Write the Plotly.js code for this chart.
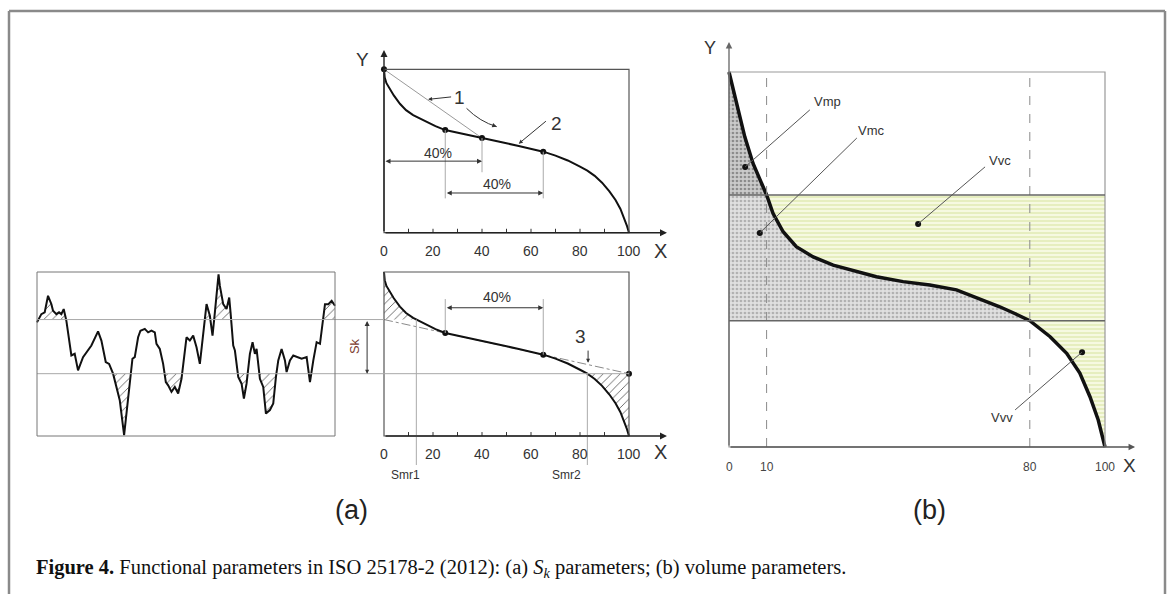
<!DOCTYPE html>
<html>
<head>
<meta charset="utf-8">
<script src="https://cdn.plot.ly/plotly-3.0.1.min.js"></script>
<style>
  html, body { margin: 0; padding: 0; background: #fff; }
  #fig { width: 1171px; height: 594px; }
</style>
</head>
<body>
<div id="fig"></div>
<script>
// ---------- data ----------
// Material-ratio (Abbott-Firestone) curve used in the two Sk panels, X in %
const ratioX = [0, 0.3, 1, 2.4, 4, 6.5, 9, 11.9, 13.2, 17, 21, 25, 30, 35, 40, 45, 50, 55, 60, 65,
                70, 75, 80, 83, 86, 89, 92, 94.5, 96.5, 98, 99.2, 100];
const ratioY = [100, 95, 91.5, 88, 84, 78.9, 75, 72, 71, 68, 65.2, 62.8, 61.1, 59.5, 57.9, 56.3, 54.7, 53.1, 51.4, 49.6,
                47.2, 44.2, 40.4, 38, 34.8, 30.6, 25.3, 20, 14.5, 9, 4, 0];
const chordPts = [0, 40];          // first 40 % window (line 1)
const windowPts = [25, 65];        // 40 % window of least slope
const skUpper = 71, skLower = 38;  // secant heights at 0 % and 100 %
const smr1 = 13.2, smr2 = 83;      // material ratios at the Sk limits
const ratioTicks = [0, 20, 40, 60, 80, 100];
const ratioMinor = [10, 20, 30, 40, 50, 60, 70, 80, 90];

// Surface profile (position %, height on the same scale as the Sk panel)
const profileX = [0, 1.46, 2.58, 3.7, 4.82, 5.38, 6.5, 7.39, 8.17, 8.96, 9.85, 11.53, 12.65, 13.77, 15.45,
  16.57, 18.25, 20.49, 21.61, 23.07, 24.19, 25.53, 27.77, 29.23, 30.24, 31.13, 32.03, 32.81, 33.93, 34.71,
  36.17, 37.29, 38.41, 39.53, 40.09, 41.21, 42.33, 43.23, 44.01, 45.13, 46.25, 47.37, 48.49, 50.17, 51.29,
  52.41, 53.53, 54.65, 55.77, 56.89, 58.01, 58.9, 59.69, 60.25, 60.92, 61.37, 62.49, 63.61, 64.5, 64.95,
  65.85, 66.41, 67.53, 68.65, 69.43, 70.32, 71.44, 72.34, 73.12, 73.68, 74.8, 75.92, 76.82, 78.16, 79.28,
  80.18, 80.96, 82.08, 83.2, 83.76, 84.88, 86, 87.12, 88.8, 90.48, 91.6, 92.72, 93.84, 94.96, 96.08, 96.64,
  97.76, 98.88, 100];
const profileY = [69.3, 74.3, 75.4, 85.5, 80.4, 76.4, 74.3, 75.4, 74.3, 77.4, 70.3, 49.1, 50.1, 40, 48.1,
  51.1, 55.2, 63.8, 58.2, 45.1, 44, 38, 21.8, 0.6, 17.8, 36, 47.1, 48.1, 60.2, 64.2,
  65.3, 63.2, 64.2, 63.2, 56.2, 53.1, 44, 32.9, 30.9, 26.9, 29.9, 25.9, 34.9, 60.2, 58.2,
  61.2, 54.1, 44, 64.2, 80.4, 73.3, 61.2, 75.4, 85.5, 98.6, 91.5, 80.4, 77.4, 84.4, 75.4,
  55.2, 52.1, 36, 31.9, 22.8, 31.9, 50.1, 57.2, 50.1, 53.1, 34.9, 29.9, 13.7, 15.8, 19.8,
  36, 46.1, 53.1, 46.1, 39, 46.1, 49.1, 48.1, 47.1, 48.1, 32.9, 46.1, 57.2, 56.2, 74.3, 80.4,
  80.4, 82.4, 79.4];

// Material-ratio curve for the volume parameters
const volX = [0, 2, 4.2, 6.4, 10, 11.7, 14.4, 17.9, 22.4, 27.7, 33.9, 39.2, 46.3, 53.4, 60.5, 66.7, 72, 76,
              80, 85.4, 89.8, 93.3, 96, 98.2, 100];
const volY = [100, 91.6, 82.7, 75.6, 67.2, 62.3, 57.4, 53.4, 50.7, 48.5, 46.7, 45.4, 44.1, 43.2, 41.9, 39.6, 37.4, 35.6,
              33.7, 29.4, 25, 19.7, 13.4, 7.2, 0];
const mr1 = 10, mr2 = 80;
const volTicks = [0, 10, 80, 100];
const volNames = ['Vmp', 'Vmc', 'Vvc', 'Vvv'];

// ---------- page geometry (pixel position of values 0 and 100, plus visible ranges) ----------
const W = 1171, H = 594;
const GEO = {
  a: { x: [384, 629], y: [232.7, 69.3], xr: [-16, 125], yr: [-14, 118] },
  b: { x: [384, 629], y: [436, 272],    xr: [-16, 125], yr: [-48, 108] },
  c: { x: [37, 335],                    xr: [-3, 103] },
  d: { x: [729, 1105], y: [447, 72],    xr: [-8, 112], yr: [-20, 112] }
};
function xDom(g) { const s = (g.x[1] - g.x[0]) / 100; return [(g.x[0] + g.xr[0] * s) / W, (g.x[0] + g.xr[1] * s) / W]; }
function yDom(g) { const s = (g.y[0] - g.y[1]) / 100; return [1 - (g.y[0] - g.yr[0] * s) / H, 1 - (g.y[0] - g.yr[1] * s) / H]; }
function paperX(g, v) { return (g.x[0] + v * (g.x[1] - g.x[0]) / 100) / W; }

const SANS = 'Liberation Sans, Arial, sans-serif';
const SERIF = 'Liberation Serif, Times New Roman, serif';

function yAt(xs, ys, x) { return ys[xs.indexOf(x)]; }

// polygons of the parts of a line lying beyond a level, closed along that level
function excursions(xs, ys, level, above) {
  const ox = [], oy = [];
  const cond = v => above ? v > level : v < level;
  for (let i = 0; i < xs.length; i++) {
    const c = cond(ys[i]);
    if (i === 0) {
      if (c) { ox.push(xs[0]); oy.push(level); }
    } else if (c !== cond(ys[i - 1])) {
      const t = (level - ys[i - 1]) / (ys[i] - ys[i - 1]);
      ox.push(xs[i - 1] + t * (xs[i] - xs[i - 1])); oy.push(level);
      if (!c) { ox.push(null); oy.push(null); }
    }
    if (c) { ox.push(xs[i]); oy.push(ys[i]); }
  }
  if (cond(ys[ys.length - 1])) { ox.push(xs[xs.length - 1]); oy.push(level); }
  return { x: ox, y: oy };
}

const shapes = [], ann = [];
function seg(x0, y0, x1, y1, xr, yr, color, width, dash) {
  shapes.push({ type: 'line', x0, y0, x1, y1, xref: xr, yref: yr, line: { color, width, dash: dash || 'solid' } });
}
function box(xr, yr, color, width) {
  shapes.push({ type: 'rect', x0: 0, y0: 0, x1: 100, y1: 100, xref: xr, yref: yr, line: { color, width }, fillcolor: 'rgba(0,0,0,0)' });
}
function label(text, x, y, xr, yr, size, extra) {
  ann.push(Object.assign({ text, x, y, xref: xr, yref: yr, showarrow: false,
    font: { family: SANS, size, color: '#333' }, xanchor: 'center', yanchor: 'middle' }, extra || {}));
}
function arrow(x, y, ax, ay, xr, yr, extra) {
  ann.push(Object.assign({ text: '', x, y, ax, ay, xref: xr, yref: yr, axref: xr, ayref: yr, showarrow: true,
    arrowhead: 2, arrowsize: 1, arrowwidth: 1, arrowcolor: '#333', standoff: 0, startstandoff: 0 }, extra || {}));
}
const both = { arrowside: 'end+start', startarrowhead: 2, startarrowsize: 1 };

const traces = [];
const hatch = { shape: '/', fgcolor: '#555', bgcolor: 'rgba(255,255,255,0)', size: 6, solidity: 0.14 };

// ---------- panel (a), top: 40 % windows along the ratio curve ----------
box('x', 'y', '#555', 1.2);
arrow(0, 111.8, 0, 0, 'x', 'y', { arrowwidth: 1.4, arrowcolor: '#222' });
arrow(115.5, 0, 0, 0, 'x', 'y', { arrowwidth: 1.4, arrowcolor: '#222' });
ratioMinor.forEach(t => seg(t, 0, t, 2.4, 'x', 'y', '#333', 1));
ratioTicks.forEach(t => label(String(t), t, -11.5, 'x', 'y', 14));
label('Y', -8.6, 106.3, 'x', 'y', 19);
label('X', 112.7, -11, 'x', 'y', 20);

traces.push({ x: chordPts, y: chordPts.map(v => yAt(ratioX, ratioY, v)), xaxis: 'x', yaxis: 'y',
  mode: 'lines', line: { color: '#9a9a9a', width: 1 } });
traces.push({ x: ratioX, y: ratioY, xaxis: 'x', yaxis: 'y', mode: 'lines', line: { color: '#111', width: 2 } });
const dotsA = [chordPts[0], windowPts[0], chordPts[1], windowPts[1]];
traces.push({ x: dotsA, y: dotsA.map(v => yAt(ratioX, ratioY, v)), xaxis: 'x', yaxis: 'y',
  mode: 'markers', marker: { color: '#111', size: 6 } });

seg(windowPts[0], yAt(ratioX, ratioY, windowPts[0]), windowPts[0], 21, 'x', 'y', '#aaa', 1);
seg(chordPts[1], yAt(ratioX, ratioY, chordPts[1]), chordPts[1], 37, 'x', 'y', '#aaa', 1);
seg(windowPts[1], yAt(ratioX, ratioY, windowPts[1]), windowPts[1], 21, 'x', 'y', '#aaa', 1);
arrow(chordPts[1], 43.8, chordPts[0], 43.8, 'x', 'y', both);
arrow(windowPts[1], 24.3, windowPts[0], 24.3, 'x', 'y', both);
label('40%', 22, 48.8, 'x', 'y', 14);
label('40%', 46, 29.8, 'x', 'y', 14);

label('1', 31, 83, 'x', 'y', 19);
arrow(18, 81.6, 28, 83.2, 'x', 'y', { arrowsize: 0.8 });
shapes.push({ type: 'path', xref: 'x', yref: 'y', path: 'M33.7,76.1 Q39.2,67.9 46,64.9', line: { color: '#333', width: 1 } });
arrow(46, 64.9, 44.6, 65.6, 'x', 'y', { arrowsize: 0.9 });
label('2', 70.5, 67, 'x', 'y', 19);
arrow(55, 54.5, 66.7, 69, 'x', 'y', { arrowsize: 0.8 });

// ---------- panel (a), bottom: Sk construction ----------
box('x2', 'y2', '#555', 1.2);
arrow(115.5, 0, 0, 0, 'x2', 'y2', { arrowwidth: 1.4, arrowcolor: '#222' });
ratioMinor.forEach(t => seg(t, 0, t, 2.4, 'x2', 'y2', '#333', 1));
ratioTicks.forEach(t => label(String(t), t, -11, 'x2', 'y2', 14));
label('X', 112.7, -9.6, 'x2', 'y2', 20);

const iS1 = ratioX.indexOf(smr1), iS2 = ratioX.indexOf(smr2);
traces.push({ x: [0].concat(ratioX.slice(0, iS1 + 1)), y: [skUpper].concat(ratioY.slice(0, iS1 + 1)),
  xaxis: 'x2', yaxis: 'y2', mode: 'none', fill: 'toself', fillcolor: 'rgba(0,0,0,0)', fillpattern: hatch });
traces.push({ x: ratioX.slice(iS2).concat([100]), y: ratioY.slice(iS2).concat([skLower]),
  xaxis: 'x2', yaxis: 'y2', mode: 'none', fill: 'toself', fillcolor: 'rgba(0,0,0,0)', fillpattern: hatch });
traces.push({ x: [0, 100], y: [skUpper, skLower], xaxis: 'x2', yaxis: 'y2', mode: 'lines',
  line: { color: '#8a8a8a', width: 1, dash: 'dashdot' } });
traces.push({ x: ratioX, y: ratioY, xaxis: 'x2', yaxis: 'y2', mode: 'lines', line: { color: '#111', width: 2 } });
traces.push({ x: windowPts.concat([100]), y: windowPts.map(v => yAt(ratioX, ratioY, v)).concat([skLower]),
  xaxis: 'x2', yaxis: 'y2', mode: 'markers', marker: { color: '#111', size: 6 } });

windowPts.forEach(v => seg(v, 83.5, v, yAt(ratioX, ratioY, v), 'x2', 'y2', '#aaa', 1));
arrow(windowPts[1], 78.2, windowPts[0], 78.2, 'x2', 'y2', both);
label('40%', 46, 84.8, 'x2', 'y2', 14);
seg(smr1, skUpper, smr1, -17.7, 'x2', 'y2', '#aaa', 1);
seg(smr2, skLower, smr2, -17.7, 'x2', 'y2', '#aaa', 1);
label('Smr1', 8.6, -23.8, 'x2', 'y2', 12);
label('Smr2', 74.3, -23.8, 'x2', 'y2', 12);
label('3', 80, 60.4, 'x2', 'y2', 19);
arrow(83.3, 44.6, 83.3, 53, 'x2', 'y2', { arrowsize: 0.8 });

// Sk band carried across the profile
seg(paperX(GEO.c, 0), skUpper, paperX(GEO.b, 0), skUpper, 'paper', 'y2', '#a8a8a8', 1);
seg(paperX(GEO.c, 0), skLower, paperX(GEO.b, 100), skLower, 'paper', 'y2', '#a8a8a8', 1);
arrow(-6.9, skLower, -6.9, skUpper, 'x2', 'y2', Object.assign({ arrowsize: 0.8 }, both));
label('Sk', -11.8, 54.9, 'x2', 'y2', 13, { textangle: -90, font: { family: SANS, size: 13, color: '#7a3b2e' } });
label('(a)', -13.1, -45.1, 'x2', 'y2', 27, { font: { family: SANS, size: 27, color: '#222' } });

// ---------- profile ----------
box('x3', 'y2', '#777', 1);
const upPart = excursions(profileX, profileY, skUpper, true);
const lowPart = excursions(profileX, profileY, skLower, false);
[upPart, lowPart].forEach(p => traces.push({ x: p.x, y: p.y, xaxis: 'x3', yaxis: 'y2', mode: 'none',
  fill: 'toself', fillcolor: 'rgba(0,0,0,0)', fillpattern: hatch }));
traces.push({ x: profileX, y: profileY, xaxis: 'x3', yaxis: 'y2', mode: 'lines',
  line: { color: '#111', width: 2 } });

// ---------- panel (b): volume parameters ----------
const iUp = volX.indexOf(mr1), iLo = volX.indexOf(mr2);
const volUpper = volY[iUp], volLower = volY[iLo];
const grey1 = { shape: '.', bgcolor: '#cbcbcb', fgcolor: '#8a8a8a', size: 4, solidity: 0.35 };
const grey2 = { shape: '.', bgcolor: '#e0e0e0', fgcolor: '#b0b0b0', size: 4, solidity: 0.35 };
const green = { shape: '-', bgcolor: '#f6f9e1', fgcolor: '#dce7a8', size: 4, solidity: 0.3 };
const volFills = [
  { x: volX.slice(0, iUp + 1).concat([0]), y: volY.slice(0, iUp + 1).concat([volUpper]), p: grey1 },
  { x: [0, 0].concat(volX.slice(iUp, iLo + 1)), y: [volLower, volUpper].concat(volY.slice(iUp, iLo + 1)), p: grey2 },
  { x: volX.slice(iUp, iLo + 1).concat([100, 100]), y: volY.slice(iUp, iLo + 1).concat([volLower, volUpper]), p: green },
  { x: volX.slice(iLo).concat([100]), y: volY.slice(iLo).concat([volLower]), p: green }
];
volFills.forEach(f => traces.push({ x: f.x, y: f.y, xaxis: 'x4', yaxis: 'y4', mode: 'none', fill: 'toself',
  fillcolor: f.p.bgcolor, fillpattern: f.p }));

box('x4', 'y4', '#999', 1.2);
[mr1, mr2].forEach(v => seg(v, 0, v, 100, 'x4', 'y4', '#8a8a8a', 1, 'dash'));
seg(0, volUpper, 100, volUpper, 'x4', 'y4', '#666', 1.5);
seg(0, volLower, 100, volLower, 'x4', 'y4', '#666', 1.5);
arrow(0, 108, 0, 0, 'x4', 'y4', { arrowwidth: 1.3, arrowcolor: '#666' });
arrow(108, 0, 0, 0, 'x4', 'y4', { arrowwidth: 1.3, arrowcolor: '#555' });
volTicks.forEach(t => label(String(t), t, -5.2, 'x4', 'y4', 12, { font: { family: SANS, size: 12, color: '#444' } }));
label('Y', -5, 106.3, 'x4', 'y4', 18);
label('X', 106.6, -5, 'x4', 'y4', 19);

traces.push({ x: volX, y: volY, xaxis: 'x4', yaxis: 'y4', mode: 'lines', line: { color: '#111', width: 3.5 } });

// leaders: dot in the region -> end of leader -> name
const dotX = [4.3, 8.2, 50.3, 93.9], dotY = [74.7, 57.1, 59.5, 25.3];
const tipX = [21.5, 34, 68.1, 76.1], tipY = [89.9, 82.4, 74.7, 9.9];
const nameX = [26.3, 38, 72.1, 72.6], nameY = [92, 84.5, 76.5, 8];
volNames.forEach((n, i) => {
  seg(dotX[i], dotY[i], tipX[i], tipY[i], 'x4', 'y4', '#555', 1);
  label(n, nameX[i], nameY[i], 'x4', 'y4', 13);
});
traces.push({ x: dotX, y: dotY, xaxis: 'x4', yaxis: 'y4', mode: 'markers', marker: { color: '#111', size: 6 } });
label('(b)', 53.2, -16.8, 'x4', 'y4', 27, { font: { family: SANS, size: 27, color: '#222' } });

// ---------- frame and caption ----------
const fx0 = 9 / W, fx1 = 1165 / W, fyTop = 1 - 11 / H;
seg(fx0, 0, fx0, fyTop, 'paper', 'paper', '#8a8a8a', 2.5);
seg(fx0, fyTop, fx1, fyTop, 'paper', 'paper', '#8a8a8a', 2.5);
seg(fx1, fyTop, fx1, 0, 'paper', 'paper', '#8a8a8a', 2.5);
ann.push({ text: '<b>Figure 4.</b> Functional parameters in ISO 25178-2 (2012): (a) <i>S</i><sub><i>k</i></sub> parameters; (b) volume parameters.',
  x: 34 / W, y: 1 - 568 / H, xref: 'paper', yref: 'paper', xanchor: 'left', yanchor: 'middle', showarrow: false,
  font: { family: SERIF, size: 20.5, color: '#111' } });

// ---------- axes ----------
function ax(g, which, anchor) {
  return { domain: which === 'x' ? xDom(g) : yDom(g), range: which === 'x' ? g.xr : g.yr, anchor,
    visible: false, fixedrange: true, showgrid: false, zeroline: false };
}
const layout = {
  width: W, height: H, margin: { l: 0, r: 0, t: 0, b: 0 },
  paper_bgcolor: '#fff', plot_bgcolor: 'rgba(0,0,0,0)', showlegend: false,
  xaxis: ax(GEO.a, 'x', 'y'), yaxis: ax(GEO.a, 'y', 'x'),
  xaxis2: ax(GEO.b, 'x', 'y2'), yaxis2: ax(GEO.b, 'y', 'x2'),
  xaxis3: ax(GEO.c, 'x', 'y2'),
  xaxis4: ax(GEO.d, 'x', 'y4'), yaxis4: ax(GEO.d, 'y', 'x4'),
  shapes, annotations: ann
};
Plotly.newPlot('fig', traces, layout, { staticPlot: true, displayModeBar: false });
</script>
</body>
</html>
